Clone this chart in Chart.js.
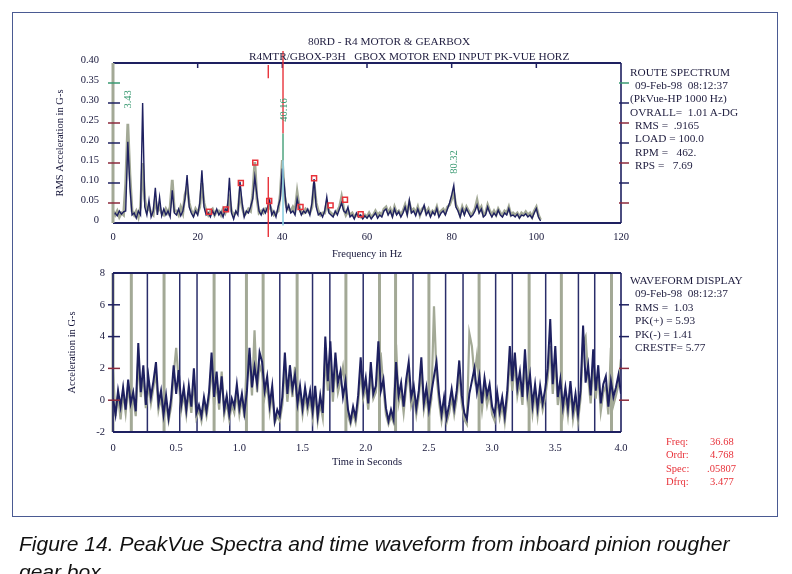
<!DOCTYPE html>
<html>
<head>
<meta charset="utf-8">
<script src="https://cdn.jsdelivr.net/npm/chart.js@4.4.1/dist/chart.umd.min.js"></script>
<style>
  body { margin: 0; background: #fff; width: 792px; height: 574px; overflow: hidden; position: relative; font-family: "Liberation Serif", serif; }
  .box { position: absolute; left: 12px; top: 12px; width: 764px; height: 503px; border: 1.5px solid #4a5a92; }
  .wrap { position: absolute; left: 0; top: 0; width: 792px; height: 574px; }
  .t { position: absolute; font-size: 11.3px; line-height: 13px; color: #1e1c3e; white-space: pre; }
  .red { color: #e8323a; font-size: 10.5px; }
  .cap { position: absolute; left: 19px; font-family: "Liberation Sans", Arial, sans-serif; font-style: italic; font-size: 21px; line-height: 26px; color: #111; white-space: pre; }
</style>
</head>
<body>
<div class="box"></div>
<div class="wrap"><canvas id="spectrum"></canvas></div>
<div class="wrap"><canvas id="waveform"></canvas></div>

<div class="t" style="left:308px;top:35px">80RD - R4 MOTOR &amp; GEARBOX</div>
<div class="t" style="left:249px;top:50px">R4MTR/GBOX-P3H   GBOX MOTOR END INPUT PK-VUE HORZ</div>

<div class="t" style="left:630px;top:66px">ROUTE SPECTRUM</div>
<div class="t" style="left:635px;top:79px">09-Feb-98  08:12:37</div>
<div class="t" style="left:630px;top:92px">(PkVue-HP 1000 Hz)</div>
<div class="t" style="left:630px;top:106px">OVRALL=  1.01 A-DG</div>
<div class="t" style="left:635px;top:119px">RMS =  .9165</div>
<div class="t" style="left:635px;top:132px">LOAD = 100.0</div>
<div class="t" style="left:635px;top:146px">RPM =   462.</div>
<div class="t" style="left:635px;top:159px">RPS =   7.69</div>

<div class="t" style="left:630px;top:274px">WAVEFORM DISPLAY</div>
<div class="t" style="left:635px;top:287px">09-Feb-98  08:12:37</div>
<div class="t" style="left:635px;top:301px">RMS =  1.03</div>
<div class="t" style="left:635px;top:314px">PK(+) = 5.93</div>
<div class="t" style="left:635px;top:328px">PK(-) = 1.41</div>
<div class="t" style="left:635px;top:341px">CRESTF= 5.77</div>

<div class="t red" style="left:666px;top:435px">Freq:</div><div class="t red" style="left:710px;top:435px">36.68</div>
<div class="t red" style="left:666px;top:448px">Ordr:</div><div class="t red" style="left:710px;top:448px">4.768</div>
<div class="t red" style="left:666px;top:462px">Spec:</div><div class="t red" style="left:707px;top:462px">.05807</div>
<div class="t red" style="left:666px;top:475px">Dfrq:</div><div class="t red" style="left:710px;top:475px">3.477</div>

<div class="cap" style="top:531px">Figure 14. PeakVue Spectra and time waveform from inboard pinion rougher</div>
<div class="cap" style="top:559px">gear box</div>

<script>
// spectrum, 0.5 Hz per line
const specStep = 0.5;
const specNavy = [
  0.02, 0.025, 0.018, 0.03, 0.022, 0.028, 0.03, 0.203, 0.09, 0.02,
  0.025, 0.012, 0.03, 0.02, 0.30, 0.04, 0.02, 0.057, 0.015, 0.03,
  0.088, 0.02, 0.065, 0.018, 0.035, 0.02, 0.03, 0.015, 0.082, 0.025,
  0.02, 0.035, 0.018, 0.03, 0.06, 0.12, 0.04, 0.025, 0.015, 0.03,
  0.02, 0.05, 0.132, 0.04, 0.02, 0.025, 0.015, 0.03, 0.02, 0.035,
  0.02, 0.028, 0.015, 0.035, 0.03, 0.113, 0.025, 0.01, 0.03, 0.02,
  0.103, 0.05, 0.015, 0.03, 0.025, 0.04, 0.06, 0.115, 0.07, 0.03,
  0.02, 0.035, 0.025, 0.04, 0.057, 0.02, 0.03, 0.015, 0.04, 0.06,
  0.136, 0.09, 0.03, 0.045, 0.025, 0.03, 0.02, 0.06, 0.035, 0.02,
  0.03, 0.025, 0.035, 0.02, 0.05, 0.11, 0.04, 0.02, 0.025, 0.015,
  0.03, 0.065, 0.025, 0.02, 0.015, 0.03, 0.02, 0.035, 0.05, 0.03,
  0.025, 0.04, 0.015, 0.02, 0.01, 0.025, 0.015, 0.02, 0.01, 0.018,
  0.012, 0.02, 0.01, 0.018, 0.025, 0.012, 0.02, 0.015, 0.03, 0.035,
  0.02, 0.03, 0.015, 0.035, 0.02, 0.028, 0.015, 0.025, 0.04, 0.02,
  0.057, 0.025, 0.03, 0.018, 0.035, 0.02, 0.03, 0.045, 0.02, 0.03,
  0.015, 0.028, 0.02, 0.036, 0.015, 0.025, 0.03, 0.02, 0.035, 0.05,
  0.07, 0.094, 0.04, 0.03, 0.015, 0.035, 0.02, 0.036, 0.025, 0.015,
  0.02, 0.03, 0.045, 0.025, 0.035, 0.015, 0.02, 0.04, 0.025, 0.015,
  0.025, 0.018, 0.032, 0.02, 0.015, 0.025, 0.02, 0.036, 0.018, 0.02,
  0.015, 0.022, 0.012, 0.02, 0.018, 0.023, 0.015, 0.02, 0.012, 0.025,
  0.036, 0.015, 0.005
];
const specGray = [
  0.03, 0.02, 0.03, 0.015, 0.025, 0.02, 0.1, 0.248, 0.12, 0.03,
  0.02, 0.03, 0.015, 0.04, 0.15, 0.06, 0.03, 0.04, 0.025, 0.02,
  0.06, 0.03, 0.04, 0.025, 0.02, 0.035, 0.025, 0.04, 0.108, 0.03,
  0.03, 0.02, 0.04, 0.025, 0.07, 0.09, 0.05, 0.03, 0.02, 0.035,
  0.025, 0.04, 0.10, 0.05, 0.03, 0.02, 0.03, 0.035, 0.02, 0.03,
  0.03, 0.02, 0.035, 0.025, 0.04, 0.06, 0.03, 0.02, 0.025, 0.03,
  0.08, 0.04, 0.02, 0.025, 0.035, 0.03, 0.07, 0.152, 0.06, 0.025,
  0.03, 0.025, 0.035, 0.03, 0.045, 0.03, 0.02, 0.025, 0.03, 0.07,
  0.157, 0.07, 0.04, 0.035, 0.03, 0.04, 0.03, 0.077, 0.04, 0.025,
  0.025, 0.035, 0.03, 0.025, 0.04, 0.10, 0.05, 0.03, 0.02, 0.025,
  0.025, 0.05, 0.03, 0.025, 0.02, 0.025, 0.03, 0.04, 0.065, 0.035,
  0.02, 0.03, 0.02, 0.025, 0.015, 0.02, 0.02, 0.015, 0.015, 0.02,
  0.015, 0.025, 0.015, 0.02, 0.03, 0.02, 0.025, 0.02, 0.035, 0.04,
  0.025, 0.035, 0.02, 0.04, 0.025, 0.03, 0.02, 0.03, 0.045, 0.025,
  0.05, 0.03, 0.035, 0.025, 0.04, 0.02, 0.035, 0.04, 0.025, 0.035,
  0.02, 0.03, 0.025, 0.04, 0.02, 0.03, 0.035, 0.025, 0.04, 0.045,
  0.06, 0.075, 0.045, 0.035, 0.02, 0.04, 0.025, 0.04, 0.03, 0.02,
  0.025, 0.035, 0.057, 0.03, 0.04, 0.02, 0.025, 0.045, 0.03, 0.02,
  0.03, 0.02, 0.035, 0.025, 0.02, 0.03, 0.025, 0.04, 0.02, 0.025,
  0.02, 0.025, 0.015, 0.025, 0.02, 0.028, 0.02, 0.025, 0.015, 0.03,
  0.04, 0.02, 0.008
];
const squareHz = [22.7, 26.7, 30.2, 33.6, 36.9, 44.3, 47.5, 51.4, 54.8, 58.5];
const squareVal = [0.028, 0.034, 0.10, 0.151, 0.055, 0.04, 0.112, 0.044, 0.058, 0.022];
const peakHz = [3.43, 40.16, 80.32];
const cursorHz = [36.68, 40.16];
const freqTicks = [0, 20, 40, 60, 80, 100, 120];

// waveform, 0.02 s per sample
const waveStep = 0.02;
const waveNavy = [
  0.1, -0.9, 0.6, -0.4, 0.8, -0.6, 1.3, -0.2, 0.5, -0.7,
  3.6, 0.5, 2.2, -0.3, 1.5, 0.2, 1.2, 2.4, -0.2, 0.6,
  -0.9, 0.3, -1.1, 0.1, 2.2, 0.4, 1.9, -0.3, 0.8, -0.6,
  0.9, -0.4, 2.0, -0.8, -0.3, -1.0, 0.2, -0.7, 0.5, 3.0,
  0.2, 1.8, -0.2, 1.5, -0.6, 0.3, -0.9, 0.1, -0.4, 1.0,
  -0.5, 0.4, -0.8, 0.6, 3.3, 0.8, 2.1, 1.0, 3.0, 2.4,
  0.6, 1.5, -0.3, 0.9, -1.3, -0.6, -1.0, 0.2, 3.0, 0.4,
  2.2, 0.7, 1.6, -0.2, 0.9, -0.5, 0.8, -0.3, 0.6, -0.7,
  0.9, -1.0, 0.3, -0.8, 4.0, 1.2, 3.7, 0.5, 3.0, 1.1,
  1.8, 0.2, 1.2, -0.6, -1.3, -0.4, -1.1, 0.3, 2.7, 0.5,
  1.4, -0.2, 2.4, 0.4, 0.9, 3.7, 0.6, 1.3, -0.5, -1.3,
  -0.6, -1.2, 2.4, 0.3, 1.1, -0.4, 1.3, 2.4, 0.2, 0.9,
  -0.5, 0.6, 2.7, -0.2, 0.8, -0.6, 0.5, 1.5, 2.4, 0.4,
  -0.9, 0.2, -1.1, -0.3, 0.7, -0.5, 0.6, 2.5, 0.3, -0.8,
  -1.2, 0.4, 1.2, 2.0, 0.5, 1.5, -0.2, 1.4, 0.3, 1.0,
  -0.4, -0.9, 0.5, -0.7, 0.2, -1.0, 0.6, 3.4, 1.2, 3.0,
  0.8, 1.8, 0.2, 3.2, 0.5, 1.6, -0.3, 1.0, -0.5, 0.9,
  -0.2, 0.7, 2.0, 5.1, 1.0, 3.4, 0.2, 1.3, -0.4, 0.8,
  -0.5, 1.2, -0.7, 0.4, -0.9, 0.6, 4.7, 1.1, 2.2, 0.3,
  3.2, 0.6, 2.2, -0.2, 1.0, 1.5, -0.4, 1.2, 0.2, 0.8,
  1.6, 0.4, 1.1
];
const waveGray = [
  1.8, -1.0, 0.3, -1.2, 0.5, -0.8, 0.9, -0.6, 0.2, -1.0,
  2.6, 0.2, 1.6, -0.5, 1.0, -0.2, 0.8, 1.7, -0.6, 0.2,
  -1.2, -0.2, -1.3, -0.4, 1.6, 3.3, 1.2, -0.6, 0.4, -0.9,
  0.5, -0.8, 1.3, -1.1, -0.6, -1.3, -0.2, -1.0, 0.1, 2.2,
  -0.3, 1.2, -0.6, 1.8, -0.9, -0.1, -1.2, -0.3, -0.8, 0.5,
  -0.9, 0.1, -1.1, 2.8, 2.6, 0.3, 4.4, 0.5, 2.2, 1.7,
  0.2, 1.0, -0.7, 0.5, -1.4, -1.0, -1.3, -0.3, 2.1, -0.1,
  1.6, 0.2, 2.1, -0.6, 0.5, -0.9, 0.3, -0.7, 0.1, -1.1,
  0.5, -1.3, -0.2, -1.1, 2.8, 0.6, 2.9, -0.1, 2.2, 0.5,
  1.2, 2.1, 0.7, -1.0, -1.5, -0.8, -1.4, -0.2, 1.9, 0.1,
  0.9, -0.6, 1.8, 0.1, 0.5, 2.5, 2.8, 0.8, -0.9, -1.5,
  -1.0, -1.4, 3.5, -0.2, 0.6, -0.8, 0.8, 1.8, -0.3, 0.4,
  -0.9, 0.2, 2.0, -0.6, 0.3, -1.0, 0.1, 5.9, 1.6, -0.1,
  -1.3, -0.3, -1.4, -0.8, 0.2, -0.9, 0.1, 1.9, -0.2, -1.2,
  -1.5, 4.2, 3.4, 1.5, 2.8, 1.0, -0.6, 0.9, -0.3, 0.5,
  -0.9, -1.3, 0.1, -1.1, -0.3, -1.4, 0.1, 2.6, 0.6, 2.4,
  0.3, 1.2, -0.3, 2.5, 0.1, 1.1, -0.8, 0.5, -1.0, 0.4,
  -0.6, 0.2, 1.4, 3.4, 0.4, 2.6, -0.3, 0.8, -0.9, 0.3,
  -1.0, 0.7, -1.2, -0.1, -1.3, 0.1, 3.6, 4.0, 1.5, -0.2,
  2.4, 0.1, 1.6, -0.7, 0.5, 0.9, -0.9, 3.3, -0.3, 0.3,
  1.0, 2.6, 0.5
];
// shaft-period markers on the waveform
const grayMarkSec = [0, 0.145, 0.404, 0.80, 1.056, 1.188, 1.457, 1.843, 2.109, 2.236, 2.50, 2.897, 3.293, 3.548, 3.945];
const navyMarkSec = [0.272, 0.528, 0.665, 0.924, 1.320, 1.579, 1.716, 1.980, 2.374, 2.632, 2.770, 3.028, 3.160, 3.424, 3.683, 3.812];

const NAVY = "#1e2060";
const GRAY = "#a3a996";
const RED = "#e8323a";
const MAROON = "#8c2a3c";
const GREEN = "#3a9a72";
const INK = "#16163a";

Chart.defaults.font.family = '"Liberation Serif", serif';
Chart.defaults.font.size = 10.5;
Chart.defaults.color = INK;

const toXY = (vals, step) => vals.map((v, i) => ({ x: i * step, y: v }));

function seg(ctx, x1, y1, x2, y2, color, w) {
  ctx.strokeStyle = color;
  ctx.lineWidth = w;
  ctx.beginPath();
  ctx.moveTo(x1, y1);
  ctx.lineTo(x2, y2);
  ctx.stroke();
}

const decor = {
  id: "decor",
  beforeDatasetsDraw(chart, args, o) {
    const { ctx, chartArea: a, scales: { x } } = chart;
    ctx.save();
    (o.marks || []).forEach(m => {
      m.at.forEach(t => {
        const px = x.getPixelForValue(t);
        seg(ctx, px, a.top, px, a.bottom, m.color, m.width);
      });
    });
    ctx.restore();
  },
  afterDraw(chart, args, o) {
    const { ctx, chartArea: a, scales: { x, y } } = chart;
    ctx.save();
    seg(ctx, a.left, a.top, a.right, a.top, NAVY, 2);
    seg(ctx, a.left, a.bottom, a.right, a.bottom, NAVY, 2);
    seg(ctx, a.right, a.top, a.right, a.bottom, NAVY, 1.6);
    seg(ctx, a.left, a.top, a.left, a.bottom, o.leftColor, o.leftWidth);
    y.ticks.forEach((t, i) => {
      const c = o.tickColors[i];
      if (!c) return;
      const py = y.getPixelForValue(t.value);
      seg(ctx, a.left - 5, py, a.left + 7, py, c, 1.5);
      seg(ctx, a.right - 2, py, a.right + 8, py, c, 1.5);
    });
    if (o.topTicks) {
      x.ticks.forEach(t => {
        if (t.value <= x.min || t.value >= x.max) return;
        const px = x.getPixelForValue(t.value);
        seg(ctx, px, a.top, px, a.top + 5, NAVY, 1.5);
      });
    }
    (o.cursors || []).forEach(c => {
      const px = x.getPixelForValue(c.at);
      seg(ctx, px, y.getPixelForValue(c.from), px, y.getPixelForValue(c.to), c.color, c.width);
    });
    (o.labels || []).forEach(l => {
      ctx.save();
      ctx.translate(x.getPixelForValue(l.at) + 1, y.getPixelForValue(l.top));
      ctx.rotate(-Math.PI / 2);
      ctx.fillStyle = GREEN;
      ctx.font = '10.5px "Liberation Serif"';
      ctx.textAlign = "right";
      ctx.textBaseline = "middle";
      ctx.fillText(l.text, 0, 0);
      ctx.restore();
    });
    ctx.restore();
  }
};

const fixWidth = w => s => { s.width = w; };
const fixHeight = h => s => { s.height = h; };

new Chart(document.getElementById("spectrum"), {
  type: "line",
  data: {
    datasets: [
      {
        type: "scatter",
        data: squareHz.map((f, i) => ({ x: f, y: squareVal[i] })),
        pointStyle: "rect",
        pointRadius: 3.5,
        borderColor: RED,
        backgroundColor: "rgba(255,255,255,0)",
        borderWidth: 1.5,
        order: 0
      },
      {
        data: toXY(specNavy, specStep),
        borderColor: NAVY,
        borderWidth: 1.4,
        pointRadius: 0,
        order: 1
      },
      {
        data: toXY(specGray, specStep),
        borderColor: GRAY,
        borderWidth: 2.8,
        pointRadius: 0,
        order: 2
      }
    ]
  },
  options: {
    animation: false,
    responsive: true,
    maintainAspectRatio: false,
    layout: { padding: { left: 50, right: 171, top: 63, bottom: 309 } },
    plugins: {
      legend: { display: false },
      tooltip: { enabled: false },
      decor: {
        leftColor: GRAY,
        leftWidth: 3,
        topTicks: true,
        tickColors: [null, MAROON, NAVY, MAROON, NAVY, MAROON, NAVY, GREEN, null],
        cursors: [
          { at: cursorHz[0], from: 0.395, to: 0.362, color: RED, width: 1.4 },
          { at: cursorHz[0], from: 0.115, to: -0.035, color: RED, width: 1.4 },
          { at: cursorHz[1], from: 0.43, to: 0.224, color: RED, width: 1.4 },
          { at: cursorHz[1], from: 0.224, to: 0.157, color: "#5aaa88", width: 1.6 },
          { at: cursorHz[1], from: 0.157, to: -0.006, color: "#8fd0e0", width: 1.6 }
        ],
        labels: [
          { at: peakHz[0], top: 0.332, text: peakHz[0].toFixed(2) },
          { at: peakHz[1], top: 0.312, text: peakHz[1].toFixed(2) },
          { at: peakHz[2], top: 0.182, text: peakHz[2].toFixed(2) }
        ]
      }
    },
    scales: {
      x: {
        type: "linear",
        min: 0,
        max: 120,
        afterBuildTicks: s => { s.ticks = freqTicks.map(v => ({ value: v })); },
        afterFit: fixHeight(42),
        grid: { display: false, drawTicks: false },
        border: { display: false },
        ticks: { padding: 8, maxRotation: 0, callback: v => String(v) },
        title: { display: true, text: "Frequency in Hz", padding: { top: 0, bottom: 4 }, font: { size: 10.5 } }
      },
      y: {
        min: 0,
        max: 0.40,
        afterFit: fixWidth(63),
        grid: { display: false, drawTicks: false },
        border: { display: false },
        ticks: { stepSize: 0.05, padding: 14, labelOffset: -3, callback: v => (v === 0 ? "0" : v.toFixed(2)) },
        title: { display: true, text: "RMS Acceleration in G-s", padding: { top: 4, bottom: 0 }, font: { size: 10.5 } }
      }
    }
  },
  plugins: [decor]
});

new Chart(document.getElementById("waveform"), {
  type: "line",
  data: {
    datasets: [
      {
        data: toXY(waveNavy, waveStep),
        borderColor: NAVY,
        borderWidth: 2,
        pointRadius: 0,
        order: 1
      },
      {
        data: toXY(waveGray, waveStep),
        borderColor: GRAY,
        borderWidth: 2.2,
        pointRadius: 0,
        order: 2
      }
    ]
  },
  options: {
    animation: false,
    responsive: true,
    maintainAspectRatio: false,
    layout: { padding: { left: 50, right: 171, top: 273, bottom: 102 } },
    plugins: {
      legend: { display: false },
      tooltip: { enabled: false },
      decor: {
        leftColor: NAVY,
        leftWidth: 1.6,
        tickColors: [null, MAROON, MAROON, NAVY, NAVY, null],
        marks: [
          { at: grayMarkSec, color: GRAY, width: 3 },
          { at: navyMarkSec, color: "#2a2d6a", width: 1.5 }
        ]
      }
    },
    scales: {
      x: {
        type: "linear",
        min: 0,
        max: 4.02,
        afterFit: fixHeight(40),
        grid: { display: false, drawTicks: false },
        border: { display: false },
        ticks: { stepSize: 0.5, padding: 10, maxRotation: 0, callback: v => (v === 0 ? "0" : v.toFixed(1)) },
        title: { display: true, text: "Time in Seconds", padding: { top: 0, bottom: 3 }, font: { size: 10.5 } }
      },
      y: {
        min: -2,
        max: 8,
        afterFit: fixWidth(63),
        grid: { display: false, drawTicks: false },
        border: { display: false },
        ticks: { stepSize: 2, padding: 8, callback: v => String(v) },
        title: { display: true, text: "Acceleration in G-s", padding: { top: 16, bottom: 0 }, font: { size: 10.5 } }
      }
    }
  },
  plugins: [decor]
});
</script>
</body>
</html>
